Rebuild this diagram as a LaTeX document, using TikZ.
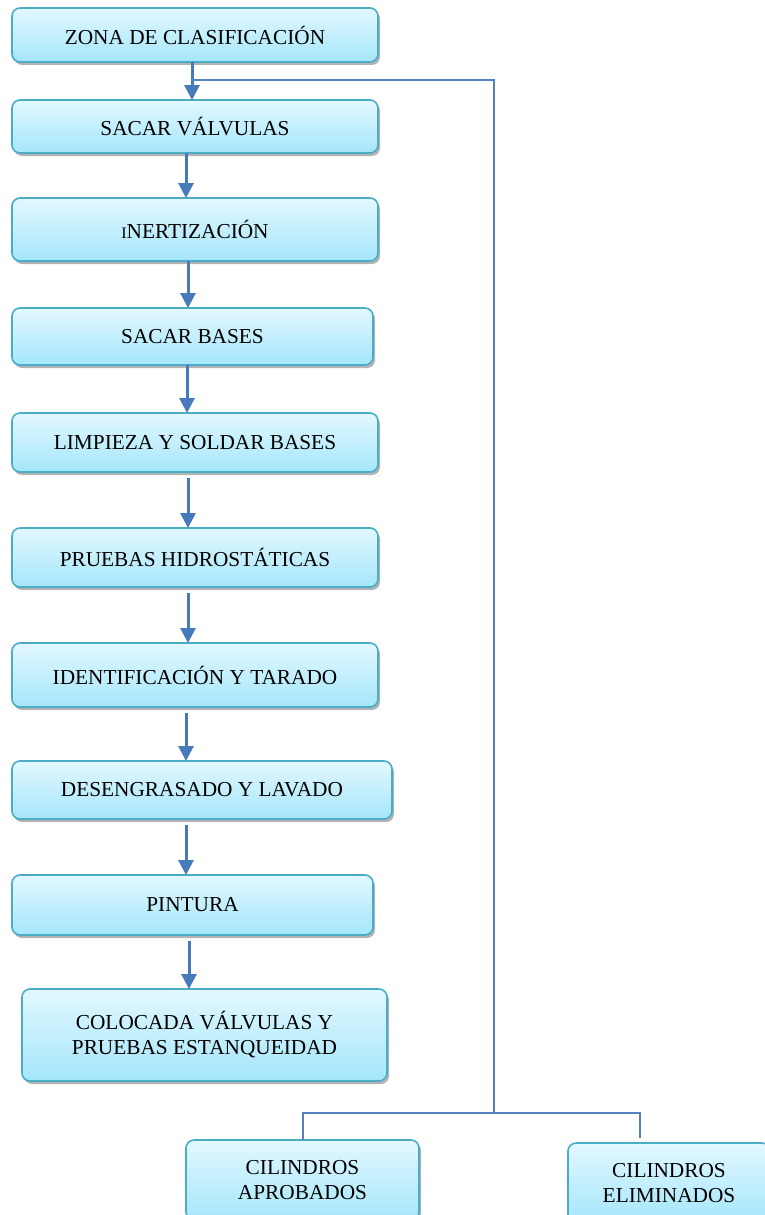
\documentclass[tikz,border=0pt]{standalone}
\usepackage{fontspec}
\setmainfont{Liberation Serif}
\usetikzlibrary{arrows.meta, positioning, shadows}
\definecolor{aquaedge}{RGB}{75,172,198}
\definecolor{aquatop}{RGB}{226,248,255}
\definecolor{aquabot}{RGB}{165,230,251}
\definecolor{flowblue}{RGB}{70,122,186}
\definecolor{wireblue}{RGB}{84,130,190}

\begin{document}
\begin{tikzpicture}[
    x=1pt, y=-1pt,
    every node/.style={font=\fontsize{21.3}{25}\selectfont},
    blk/.style={draw=aquaedge, top color=aquatop, bottom color=aquabot, rounded corners=8pt,
                align=center, minimum width=366pt, minimum height=54pt, line width=1.6pt,
                inner sep=0pt, outer sep=0pt,
                drop shadow={shadow xshift=2pt, shadow yshift=-3pt, fill=black!50, opacity=0.6}},
    line/.style={draw=flowblue, line width=3pt, -{Triangle[width=15pt,length=15pt]}},
    wire/.style={draw=wireblue, line width=2pt}
]
\useasboundingbox (0,0) rectangle (765,1215);

% -------- Main column (top to bottom) --------
\node[blk, anchor=north west] (zona) at (12,8) {ZONA DE CLASIFICACIÓN};
\node[blk, minimum height=53pt, below=38pt of zona.south west, anchor=north west] (valv) {SACAR VÁLVULAS};
\node[blk, minimum height=63pt, below=45pt of valv.south west, anchor=north west] (inert)
      {{\fontsize{16}{25}\selectfont I}NERTIZACIÓN};
\node[blk, minimum width=361pt, minimum height=57pt, below=47pt of inert.south west, anchor=north west] (bases) {SACAR BASES};
\node[blk, minimum height=59pt, below=48pt of bases.south west, anchor=north west] (limp) {LIMPIEZA Y SOLDAR BASES};
\node[blk, minimum height=59pt, below=56pt of limp.south west, anchor=north west] (hidro) {PRUEBAS HIDROSTÁTICAS};
\node[blk, minimum height=64pt, below=56pt of hidro.south west, anchor=north west] (ident) {IDENTIFICACIÓN Y TARADO};
\node[blk, minimum width=380pt, minimum height=58pt, below=54pt of ident.south west, anchor=north west] (deseng) {DESENGRASADO Y LAVADO};
\node[blk, minimum width=361pt, minimum height=60pt, below=56pt of deseng.south west, anchor=north west] (pint) {PINTURA};
\node[blk, minimum width=365pt, minimum height=92pt, below=54pt of pint.south west, anchor=north west, xshift=10pt] (coloc)
      {COLOCADA VÁLVULAS Y\\PRUEBAS ESTANQUEIDAD};

% -------- Outcome boxes --------
\node[blk, minimum width=233pt, minimum height=80pt, anchor=north west] (aprob) at (186,1140) {CILINDROS\\APROBADOS};
\node[blk, minimum width=202pt, minimum height=80pt, anchor=north west] (elim) at (568,1143) {CILINDROS\\ELIMINADOS};

% -------- Sequential flow --------
\draw[line] ([xshift=-3pt]zona.south) -- ([xshift=-3pt]valv.north);
\draw[line] ([xshift=174pt]valv.south west) -- ([xshift=174pt]inert.north west);
\draw[line] ([xshift=176pt]inert.south west) -- ([xshift=176pt]bases.north west);
\draw[line] ([xshift=175pt]bases.south west) -- ([xshift=175pt]limp.north west);
\draw[line, shorten <=6pt] ([xshift=176pt]limp.south west) -- ([xshift=176pt]hidro.north west);
\draw[line, shorten <=6pt] ([xshift=176pt]hidro.south west) -- ([xshift=176pt]ident.north west);
\draw[line, shorten <=6pt] ([xshift=174pt]ident.south west) -- ([xshift=174pt]deseng.north west);
\draw[line, shorten <=6pt] ([xshift=174pt]deseng.south west) -- ([xshift=174pt]pint.north west);
\draw[line, shorten <=6pt] ([xshift=177pt]pint.south west) -- ([xshift=167pt]coloc.north west);

% -------- Side branch to the outcome boxes --------
\coordinate (tap) at ([xshift=-3pt,yshift=-18pt]zona.south);
\coordinate (split) at (494,1113);
\coordinate (elimtop) at (640,1138);
\draw[wire] (tap) -| (split);
\draw[wire] (aprob.north) |- (split) -| (elimtop);

\end{tikzpicture}
\end{document}
